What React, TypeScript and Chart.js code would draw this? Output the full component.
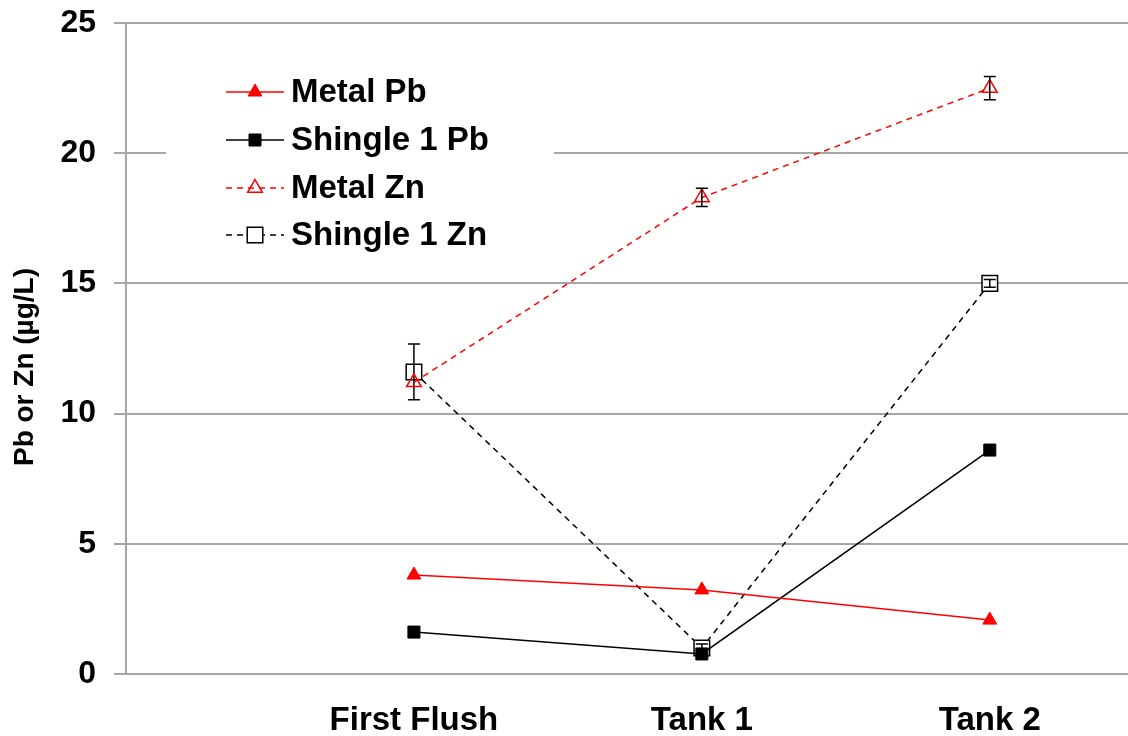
import React, { useEffect, useRef } from "react";
import { Chart, registerables } from "chart.js";

Chart.register(...registerables);

const categories = ["First Flush", "Tank 1", "Tank 2"];
const categoryX = [1, 2, 3];
const yTicks = [0, 5, 10, 15, 20, 25];
const yTitle = "Pb or Zn (µg/L)";

const metalPb = [3.8, 3.23, 2.07];
const shinglePb = [1.61, 0.77, 8.6];
const metalZn = [11.2, 18.3, 22.5];
const metalZnErr = [0, 0.35, 0.45];
const shingleZn = [11.6, 1.0, 15.0];
const shingleZnErr = [1.07, 0.15, 0.15];

const FONT = "'Liberation Sans', Arial, sans-serif";

function drawMarker(ctx: CanvasRenderingContext2D, style: string, x: number, y: number, r: number, fill: string, stroke: string, lw: number) {
  ctx.save();
  ctx.beginPath();
  if (style === "triangle") {
    const h = r * 1.5;
    const w = r * Math.sqrt(3);
    ctx.moveTo(x, y - r);
    ctx.lineTo(x + w / 2, y - r + h);
    ctx.lineTo(x - w / 2, y - r + h);
    ctx.closePath();
  } else {
    const s = Math.SQRT1_2 * r;
    ctx.rect(x - s, y - s, 2 * s, 2 * s);
  }
  ctx.fillStyle = fill;
  ctx.fill();
  ctx.lineWidth = lw;
  ctx.strokeStyle = stroke;
  ctx.setLineDash([]);
  ctx.stroke();
  ctx.restore();
}

const errorBarPlugin = {
  id: "errorBars",
  afterDatasetDraw(chart: any, args: any) {
    const ds = chart.data.datasets[args.index];
    if (!ds.errors) return;
    const meta = chart.getDatasetMeta(args.index);
    const ys = chart.scales.y;
    const ctx = chart.ctx;
    ctx.save();
    ctx.strokeStyle = "#000";
    ctx.lineWidth = 1.5;
    ctx.setLineDash([]);
    meta.data.forEach((pt: any, i: number) => {
      const e = ds.errors[i];
      if (!e) return;
      const v = ds.data[i].y;
      const top = ys.getPixelForValue(v + e);
      const bot = ys.getPixelForValue(v - e);
      const x = pt.x;
      ctx.beginPath();
      ctx.moveTo(x, top);
      ctx.lineTo(x, bot);
      ctx.moveTo(x - 6, top);
      ctx.lineTo(x + 6, top);
      ctx.moveTo(x - 6, bot);
      ctx.lineTo(x + 6, bot);
      ctx.stroke();
    });
    ctx.restore();
  },
};

const legendPlugin = {
  id: "insideLegend",
  afterDraw(chart: any) {
    const ctx = chart.ctx;
    ctx.save();
    ctx.fillStyle = "#fff";
    ctx.fillRect(166, 58, 388, 205);
    const rows = [92, 140, 188, 235];
    chart.data.datasets.forEach((ds: any, i: number) => {
      const y = rows[i];
      ctx.beginPath();
      ctx.strokeStyle = ds.borderColor;
      ctx.lineWidth = 1.5;
      ctx.setLineDash(ds.borderDash || []);
      ctx.moveTo(226, y);
      ctx.lineTo(284, y);
      ctx.stroke();
      drawMarker(ctx, ds.pointStyle, 255, y, ds.pointRadius, ds.pointBackgroundColor, ds.pointBorderColor, ds.pointBorderWidth);
      ctx.fillStyle = "#000";
      ctx.font = `bold 33px ${FONT}`;
      ctx.textBaseline = "middle";
      ctx.textAlign = "left";
      ctx.fillText(ds.label, 291, y + 1);
    });
    ctx.translate(25, 367);
    ctx.rotate(-Math.PI / 2);
    ctx.font = `bold 28px ${FONT}`;
    ctx.textAlign = "center";
    ctx.textBaseline = "middle";
    ctx.fillStyle = "#000";
    ctx.fillText(yTitle, 0, 0);
    ctx.restore();
  },
};

function pts(values: number[]) {
  return values.map((v, i) => ({ x: categoryX[i], y: v }));
}

export default function App() {
  const ref = useRef<HTMLCanvasElement>(null);
  useEffect(() => {
    if (!ref.current) return;
    const chart = new Chart(ref.current, {
      type: "line",
      data: {
        datasets: [
          {
            label: "Metal Pb",
            data: pts(metalPb),
            borderColor: "#ff0000",
            borderWidth: 1.5,
            pointStyle: "triangle",
            pointRadius: 8,
            pointBackgroundColor: "#ff0000",
            pointBorderColor: "#ff0000",
            pointBorderWidth: 1,
          },
          {
            label: "Shingle 1 Pb",
            data: pts(shinglePb),
            borderColor: "#000000",
            borderWidth: 1.5,
            pointStyle: "rect",
            pointRadius: 8.5,
            pointBackgroundColor: "#000000",
            pointBorderColor: "#000000",
            pointBorderWidth: 1,
          },
          {
            label: "Metal Zn",
            data: pts(metalZn),
            errors: metalZnErr,
            borderColor: "#ff0000",
            borderWidth: 1.5,
            borderDash: [6, 5],
            pointStyle: "triangle",
            pointRadius: 8.5,
            pointBackgroundColor: "rgba(255,255,255,0)",
            pointBorderColor: "#ff0000",
            pointBorderWidth: 1.5,
          },
          {
            label: "Shingle 1 Zn",
            data: pts(shingleZn),
            errors: shingleZnErr,
            borderColor: "#000000",
            borderWidth: 1.5,
            borderDash: [6, 5],
            pointStyle: "rect",
            pointRadius: 11,
            pointBackgroundColor: "#ffffff",
            pointBorderColor: "#000000",
            pointBorderWidth: 1.5,
          },
        ] as any,
      },
      options: {
        animation: false,
        responsive: true,
        maintainAspectRatio: false,
        layout: { autoPadding: false, padding: { top: 23, right: 0, left: 0, bottom: 0 } },
        plugins: { legend: { display: false }, tooltip: { enabled: false } },
        scales: {
          x: {
            type: "linear",
            min: 0,
            max: 3.48,
            afterBuildTicks: (s: any) => {
              s.ticks = categoryX.map((v) => ({ value: v }));
            },
            afterFit: (s: any) => {
              s.height = 62;
              s.paddingLeft = 0;
              s.paddingRight = 0;
            },
            grid: { display: false },
            border: { display: false },
            ticks: {
              color: "#000",
              padding: 19,
              maxRotation: 0,
              autoSkip: false,
              font: { family: FONT, weight: "bold", size: 33 },
              callback: (v: any) => {
                const idx = categoryX.indexOf(Number(v));
                return idx >= 0 ? categories[idx] : "";
              },
            },
          },
          y: {
            min: 0,
            max: 25,
            afterBuildTicks: (s: any) => {
              s.ticks = yTicks.map((v) => ({ value: v }));
            },
            afterFit: (s: any) => {
              s.width = 126;
              s.paddingTop = 0;
              s.paddingBottom = 0;
            },
            grid: { color: "#a6a6a6", lineWidth: 2, tickLength: 12, drawTicks: true },
            border: { display: true, color: "#a6a6a6", width: 2 },
            ticks: {
              color: "#000",
              padding: 18,
              font: { family: FONT, weight: "bold", size: 32 },
            },
          },
        },
      } as any,
      plugins: [errorBarPlugin, legendPlugin],
    });
    return () => chart.destroy();
  }, []);
  return (
    <div style={{ position: "fixed", left: 0, top: 0, width: 1128, height: 736, background: "#fff" }}>
      <canvas ref={ref} />
    </div>
  );
}
